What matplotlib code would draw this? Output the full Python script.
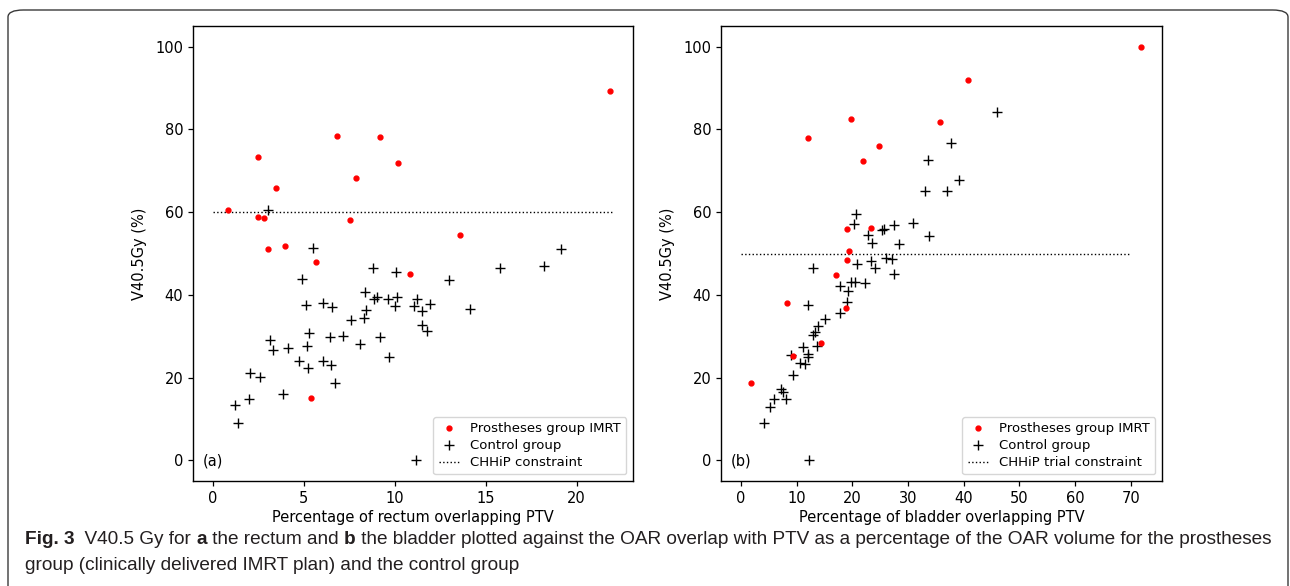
import matplotlib
matplotlib.use("Agg")
import matplotlib.pyplot as plt
from matplotlib.patches import FancyBboxPatch

# ---------------- data ----------------
rectum_prost_x = [0.82, 2.45, 2.49, 2.78, 3.05, 3.49, 3.97, 5.41, 5.65, 6.83, 7.56, 7.89, 9.21, 10.18, 10.85, 13.57, 21.81]
rectum_prost_y = [60.4, 73.3, 58.8, 58.7, 51.1, 65.9, 51.9, 15.1, 47.9, 78.4, 58.1, 68.2, 78.2, 71.9, 45.1, 54.5, 89.2]

rectum_ctrl_x = [3.05, 5.48, 8.81, 10.05, 15.8, 18.18, 19.12, 4.88, 12.99, 8.37,
                 8.84, 9.02, 9.65, 10.12, 10.01, 11.22, 11.07, 11.95, 11.47, 14.14,
                 5.10, 6.03, 6.54, 8.40, 7.58, 8.30, 11.47, 11.76, 5.28, 6.41,
                 7.16, 9.17, 8.11, 3.11, 3.29, 4.15, 5.19, 4.75, 6.05, 6.49,
                 5.21, 9.70, 2.05, 2.58, 6.71, 3.86, 1.96, 1.23, 1.35, 11.18]
rectum_ctrl_y = [60.4, 51.3, 46.5, 45.6, 46.6, 47.0, 51.0, 43.9, 43.7, 40.7,
                 38.9, 39.4, 38.9, 39.4, 37.3, 39.1, 37.4, 37.9, 36.2, 36.5,
                 37.6, 38.1, 37.1, 36.3, 33.9, 34.4, 32.6, 31.3, 30.8, 29.8,
                 30.0, 29.8, 28.2, 29.0, 26.7, 27.1, 27.7, 24.0, 24.0, 23.0,
                 22.4, 24.9, 21.1, 20.1, 18.6, 16.0, 14.9, 13.3, 9.1, 0.0]

bladder_prost_x = [71.8, 40.8, 19.7, 35.8, 12.0, 24.7, 21.9, 19.1, 23.4, 19.4, 19.1, 17.1, 8.3, 18.9, 14.4, 9.3, 1.85]
bladder_prost_y = [99.9, 91.9, 82.6, 81.9, 78.0, 76.1, 72.4, 55.9, 56.1, 50.5, 48.4, 44.7, 38.0, 36.9, 28.4, 25.1, 18.7]

bladder_ctrl_x = [46.0, 37.7, 33.5, 39.1, 33.0, 36.9, 20.6, 20.3, 30.9, 27.4,
                  25.3, 25.6, 22.8, 33.7, 23.6, 28.3, 26.0, 27.1, 23.4, 20.8,
                  24.0, 13.0, 27.5, 17.7, 19.7, 20.4, 22.3, 19.2, 19.05, 12.0,
                  17.7, 15.0, 13.9, 13.3, 12.9, 11.1, 13.7, 9.0, 12.1, 12.0,
                  10.6, 11.5, 9.25, 7.1, 7.6, 6.0, 8.1, 5.2, 4.05, 12.2]
bladder_ctrl_y = [84.2, 76.7, 72.7, 67.8, 65.1, 65.1, 59.5, 57.1, 57.3, 56.9,
                  55.6, 55.9, 54.5, 54.2, 52.6, 52.4, 49.0, 48.6, 48.2, 47.4,
                  46.4, 46.4, 45.0, 42.1, 43.1, 43.1, 42.9, 41.0, 38.3, 37.5,
                  35.6, 34.2, 32.5, 31.1, 30.3, 27.4, 27.6, 25.4, 25.8, 24.9,
                  23.6, 23.2, 20.6, 17.2, 16.6, 14.9, 14.9, 12.9, 9.0, 0.0]

rectum_constraint = 60
rectum_line_x = [0, 22]
bladder_constraint = 50
bladder_line_x = [0, 70]

legend_labels_a = ["Prostheses group IMRT", "Control group", "CHHiP constraint"]
legend_labels_b = ["Prostheses group IMRT", "Control group", "CHHiP trial constraint"]
xlabels = ["Percentage of rectum overlapping PTV", "Percentage of bladder overlapping PTV"]
ylabel = "V40.5Gy (%)"
panel_tags = ["(a)", "(b)"]

# ---------------- figure ----------------
W, H = 1290, 586
fig = plt.figure(figsize=(W / 100, H / 100), dpi=100)

# rounded frame around the figure
frame = FancyBboxPatch((8 / W, -20 / H), (1280) / W, (586 + 10) / H,
                       boxstyle="round,pad=0,rounding_size=0.012",
                       transform=fig.transFigure, fill=False,
                       edgecolor="#3a3a3a", linewidth=1.0)
frame.set_clip_on(False)
fig.patches.append(frame)

ax1 = fig.add_axes([193 / W, (586 - 481) / H, 440 / W, 455 / H])
ax2 = fig.add_axes([721 / W, (586 - 481) / H, 441 / W, 455 / H])

panels = [
    (ax1, rectum_prost_x, rectum_prost_y, rectum_ctrl_x, rectum_ctrl_y,
     rectum_line_x, rectum_constraint, legend_labels_a, xlabels[0], panel_tags[0]),
    (ax2, bladder_prost_x, bladder_prost_y, bladder_ctrl_x, bladder_ctrl_y,
     bladder_line_x, bladder_constraint, legend_labels_b, xlabels[1], panel_tags[1]),
]

for ax, px, py, cx, cy, lx, cval, labs, xl, tag in panels:
    ax.plot(px, py, linestyle="none", marker=".", color="red", markersize=7, label=labs[0], zorder=3)
    ax.plot(cx, cy, linestyle="none", marker="+", color="black", markersize=7,
            markeredgewidth=1.0, label=labs[1], zorder=2)
    ax.plot(lx, [cval, cval], linestyle=":", color="black", linewidth=1.0, label=labs[2], zorder=1)
    ax.set_yticks([0, 20, 40, 60, 80, 100])
    ax.set_ylim(-5, 105)
    ax.tick_params(labelsize=10.5, length=3.5, width=0.9)
    ax.set_xlabel(xl, fontsize=10.5, labelpad=3)
    ax.set_ylabel(ylabel, fontsize=10.5, labelpad=6)
    for s in ax.spines.values():
        s.set_linewidth(1.0)
    ax.legend(loc="lower right", fontsize=9.5, frameon=True, borderaxespad=0.5,
              handlelength=1.6, labelspacing=0.3)
    ax.text(0.022, 0.044, tag, transform=ax.transAxes, fontsize=10.5, va="center", ha="left")

ax1.set_xticks([0, 5, 10, 15, 20])
ax1.set_xlim(-1.1, 23.1)
ax2.set_xticks([0, 10, 20, 30, 40, 50, 60, 70])
ax2.set_xlim(-3.6, 75.6)

# ---------------- caption ----------------
cap_family = ["Liberation Sans Narrow", "Liberation Sans", "DejaVu Sans"]
cap_color = "#231f20"
line1 = [("Fig. 3", "bold"), ("  V40.5 Gy for ", "normal"), ("a", "bold"),
         (" the rectum and ", "normal"), ("b", "bold"),
         (" the bladder plotted against the OAR overlap with PTV as a percentage of the OAR volume for the prostheses", "normal")]
line2 = [("group (clinically delivered IMRT plan) and the control group", "normal")]

renderer = fig.canvas.get_renderer()


def place_line(pieces, x0, y, fs):
    x = x0
    arts = []
    for txt, wt in pieces:
        t = fig.text(x / W, 1 - y / H, txt, fontsize=fs, fontweight=wt, family=cap_family,
                     color=cap_color, va="center", ha="left")
        bb = t.get_window_extent(renderer)
        x += bb.width
        arts.append(t)
    return arts, x


# fit line 1 to span from x=25 to x=1278
fs = 12.0
arts, xend = place_line(line1, 25, 539, fs)
width = xend - 25
for a in arts:
    a.remove()
fs = fs * (1278 - 25) / width
place_line(line1, 25, 539, fs)
place_line(line2, 25, 566, fs)

fig.savefig("out.png", dpi=100)
